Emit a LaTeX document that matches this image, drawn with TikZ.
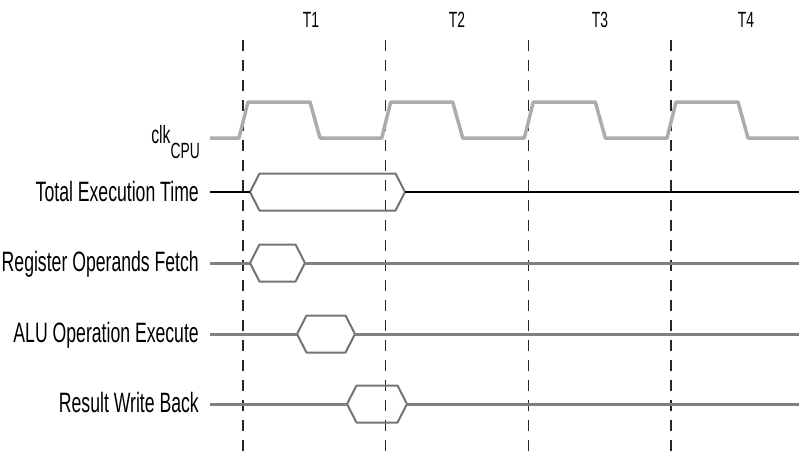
\documentclass[tikz,border=0pt]{standalone}
\usepackage{fontspec}
\newfontfamily\narrowsans[FakeStretch=0.63]{Liberation Sans}

% one phase of the instruction: a flat hexagon between two x values on a row
\newcommand{\phasebox}[4]{%
  \coordinate (#1-l) at (#2,#4);
  \coordinate (#1-r) at (#3,#4);
  \draw[phase] (#1-l) -- ({#2+9.5},{#4-18.5}) -- ({#3-9.5},{#4-18.5})
    -- (#1-r) -- ({#3-9.5},{#4+18.5}) -- ({#2+9.5},{#4+18.5}) -- cycle;}

\begin{document}
\begin{tikzpicture}[
  x=1pt, y=-1pt,
  cycleline/.style = {line width=1.2pt, black!85, dash pattern=on 11pt off 9pt},
  clock/.style     = {line width=3.5pt, gray!65, line join=round},
  signal/.style    = {line width=3pt, black!50},
  total/.style     = {line width=1.8pt, black},
  phase/.style     = {line width=2pt, black!55, line join=round},
  lbl/.style       = {font=\narrowsans\fontsize{28}{30}\selectfont,
                      anchor=base east, inner sep=0pt},
  cyc/.style       = {font=\narrowsans\fontsize{22}{24}\selectfont, inner sep=0pt},
]
  \useasboundingbox (0,0) rectangle (799,466);

  % machine cycles
  \foreach \x in {243,385.7,528.3,671}
    \draw[cycleline] (\x,40) -- (\x,460);
  \node[cyc] (t1) at (311,20) {T1};
  \node[cyc] (t2) at (457,20) {T2};
  \node[cyc] (t3) at (600,20) {T3};
  \node[cyc] (t4) at (746,20) {T4};

  % clock
  \node[lbl, font=\narrowsans\fontsize{25}{27}\selectfont] (clk) at (200,143)
    {clk\raisebox{-15pt}{\fontsize{22}{24}\selectfont CPU}};
  \draw[clock] (210,138)
    foreach \e in {243,385.7,528.3,671} {
      -- ({\e-4},138) -- ({\e+5},102) -- ({\e+67},102) -- ({\e+77},138) }
    -- (799,138);

  % rows
  \node[lbl] (tot) at (199,201) {Total Execution Time};
  \node[lbl] (reg) at (199,271) {Register Operands Fetch};
  \node[lbl] (alu) at (199,342) {ALU Operation Execute};
  \node[lbl] (res) at (199,412) {Result Write Back};

  \coordinate (tot-s) at (210,192);  \coordinate (tot-e) at (799,192);
  \coordinate (reg-s) at (210,263);  \coordinate (reg-e) at (799,263);
  \coordinate (alu-s) at (210,334);  \coordinate (alu-e) at (799,334);
  \coordinate (res-s) at (210,404);  \coordinate (res-e) at (799,404);

  \phasebox{ph0}{250}{405}{192}
  \phasebox{ph1}{250}{305}{263}
  \phasebox{ph2}{297}{355}{334}
  \phasebox{ph3}{347}{407}{404}

  \draw[total] (tot-s) -- (ph0-l);
  \draw[total] (ph0-r) -- (tot-e);
  \draw[signal] (reg-s) -- (ph1-l);
  \draw[signal] (ph1-r) -- (reg-e);
  \draw[signal] (alu-s) -- (ph2-l);
  \draw[signal] (ph2-r) -- (alu-e);
  \draw[signal] (res-s) -- (ph3-l);
  \draw[signal] (ph3-r) -- (res-e);
\end{tikzpicture}
\end{document}
